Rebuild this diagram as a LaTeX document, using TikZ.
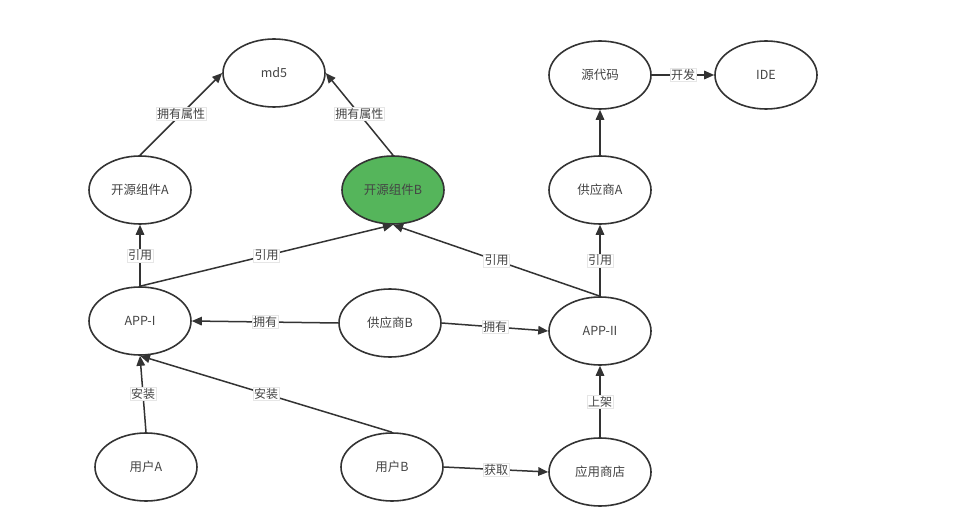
\documentclass[tikz,border=0pt]{standalone}
\usepackage{fontspec}
\usepackage{xcolor}
\usepackage{tikz}
\usetikzlibrary{arrows.meta,shapes.geometric}
\newfontfamily\cjk{Noto Sans CJK SC}
\definecolor{ink}{HTML}{333333}
\definecolor{txt}{HTML}{444444}
\definecolor{leaf}{HTML}{55B55B}
\definecolor{edge}{HTML}{E6E6E6}
\tikzset{
  ent/.style={ellipse, draw=ink, line width=1.6pt, minimum width=102pt, minimum height=68pt,
    inner sep=0pt, text=txt, font=\cjk\fontsize{12.5}{14}\selectfont},
  hot/.style={ent, fill=leaf},
  rel/.style={draw=ink, line width=1.5pt, -{Triangle[length=10pt,width=8.5pt]}},
  tag/.style={fill=white, draw=edge, line width=0.4pt, inner sep=1pt, text=txt,
    font=\cjk\fontsize{12}{13}\selectfont},
}
\begin{document}
\begin{tikzpicture}[x=1pt,y=-1pt]
  \useasboundingbox[fill=white] (0,0) rectangle (954,532);
  % entities
  \node[ent] (md5)   at (274,73)  {md5};
  \node[ent] (compA) at (140,190) {开源组件A};
  \node[hot] (compB) at (393,190) {开源组件B};
  \node[ent] (src)   at (600,75)  {源代码};
  \node[ent] (ide)   at (766,75)  {IDE};
  \node[ent] (venA)  at (600,190) {供应商A};
  \node[ent] (appI)  at (140,321) {APP-I};
  \node[ent] (venB)  at (390,323) {供应商B};
  \node[ent] (appII) at (600,331) {APP-II};
  \node[ent] (userA) at (146,467) {用户A};
  \node[ent] (userB) at (392,467) {用户B};
  \node[ent] (store) at (600,472) {应用商店};
  % relations
  \foreach \a/\b/\t in {compA.north/md5.west/拥有属性, compB.north/md5.east/拥有属性,
      appI.north/compA.south/引用, appI.north/compB.south/引用,
      appII.north/compB.south/引用, appII.north/venA.south/引用,
      src.east/ide.west/开发, venB.west/appI.east/拥有, venB.east/appII.west/拥有,
      userA.north/appI.south/安装, userB.north/appI.south/安装,
      userB.east/store.west/获取, store.north/appII.south/上架}
    \draw[rel] (\a) -- node[tag] {\t} (\b);
  \draw[rel] (venA.north) -- (src.south);
\end{tikzpicture}
\end{document}
